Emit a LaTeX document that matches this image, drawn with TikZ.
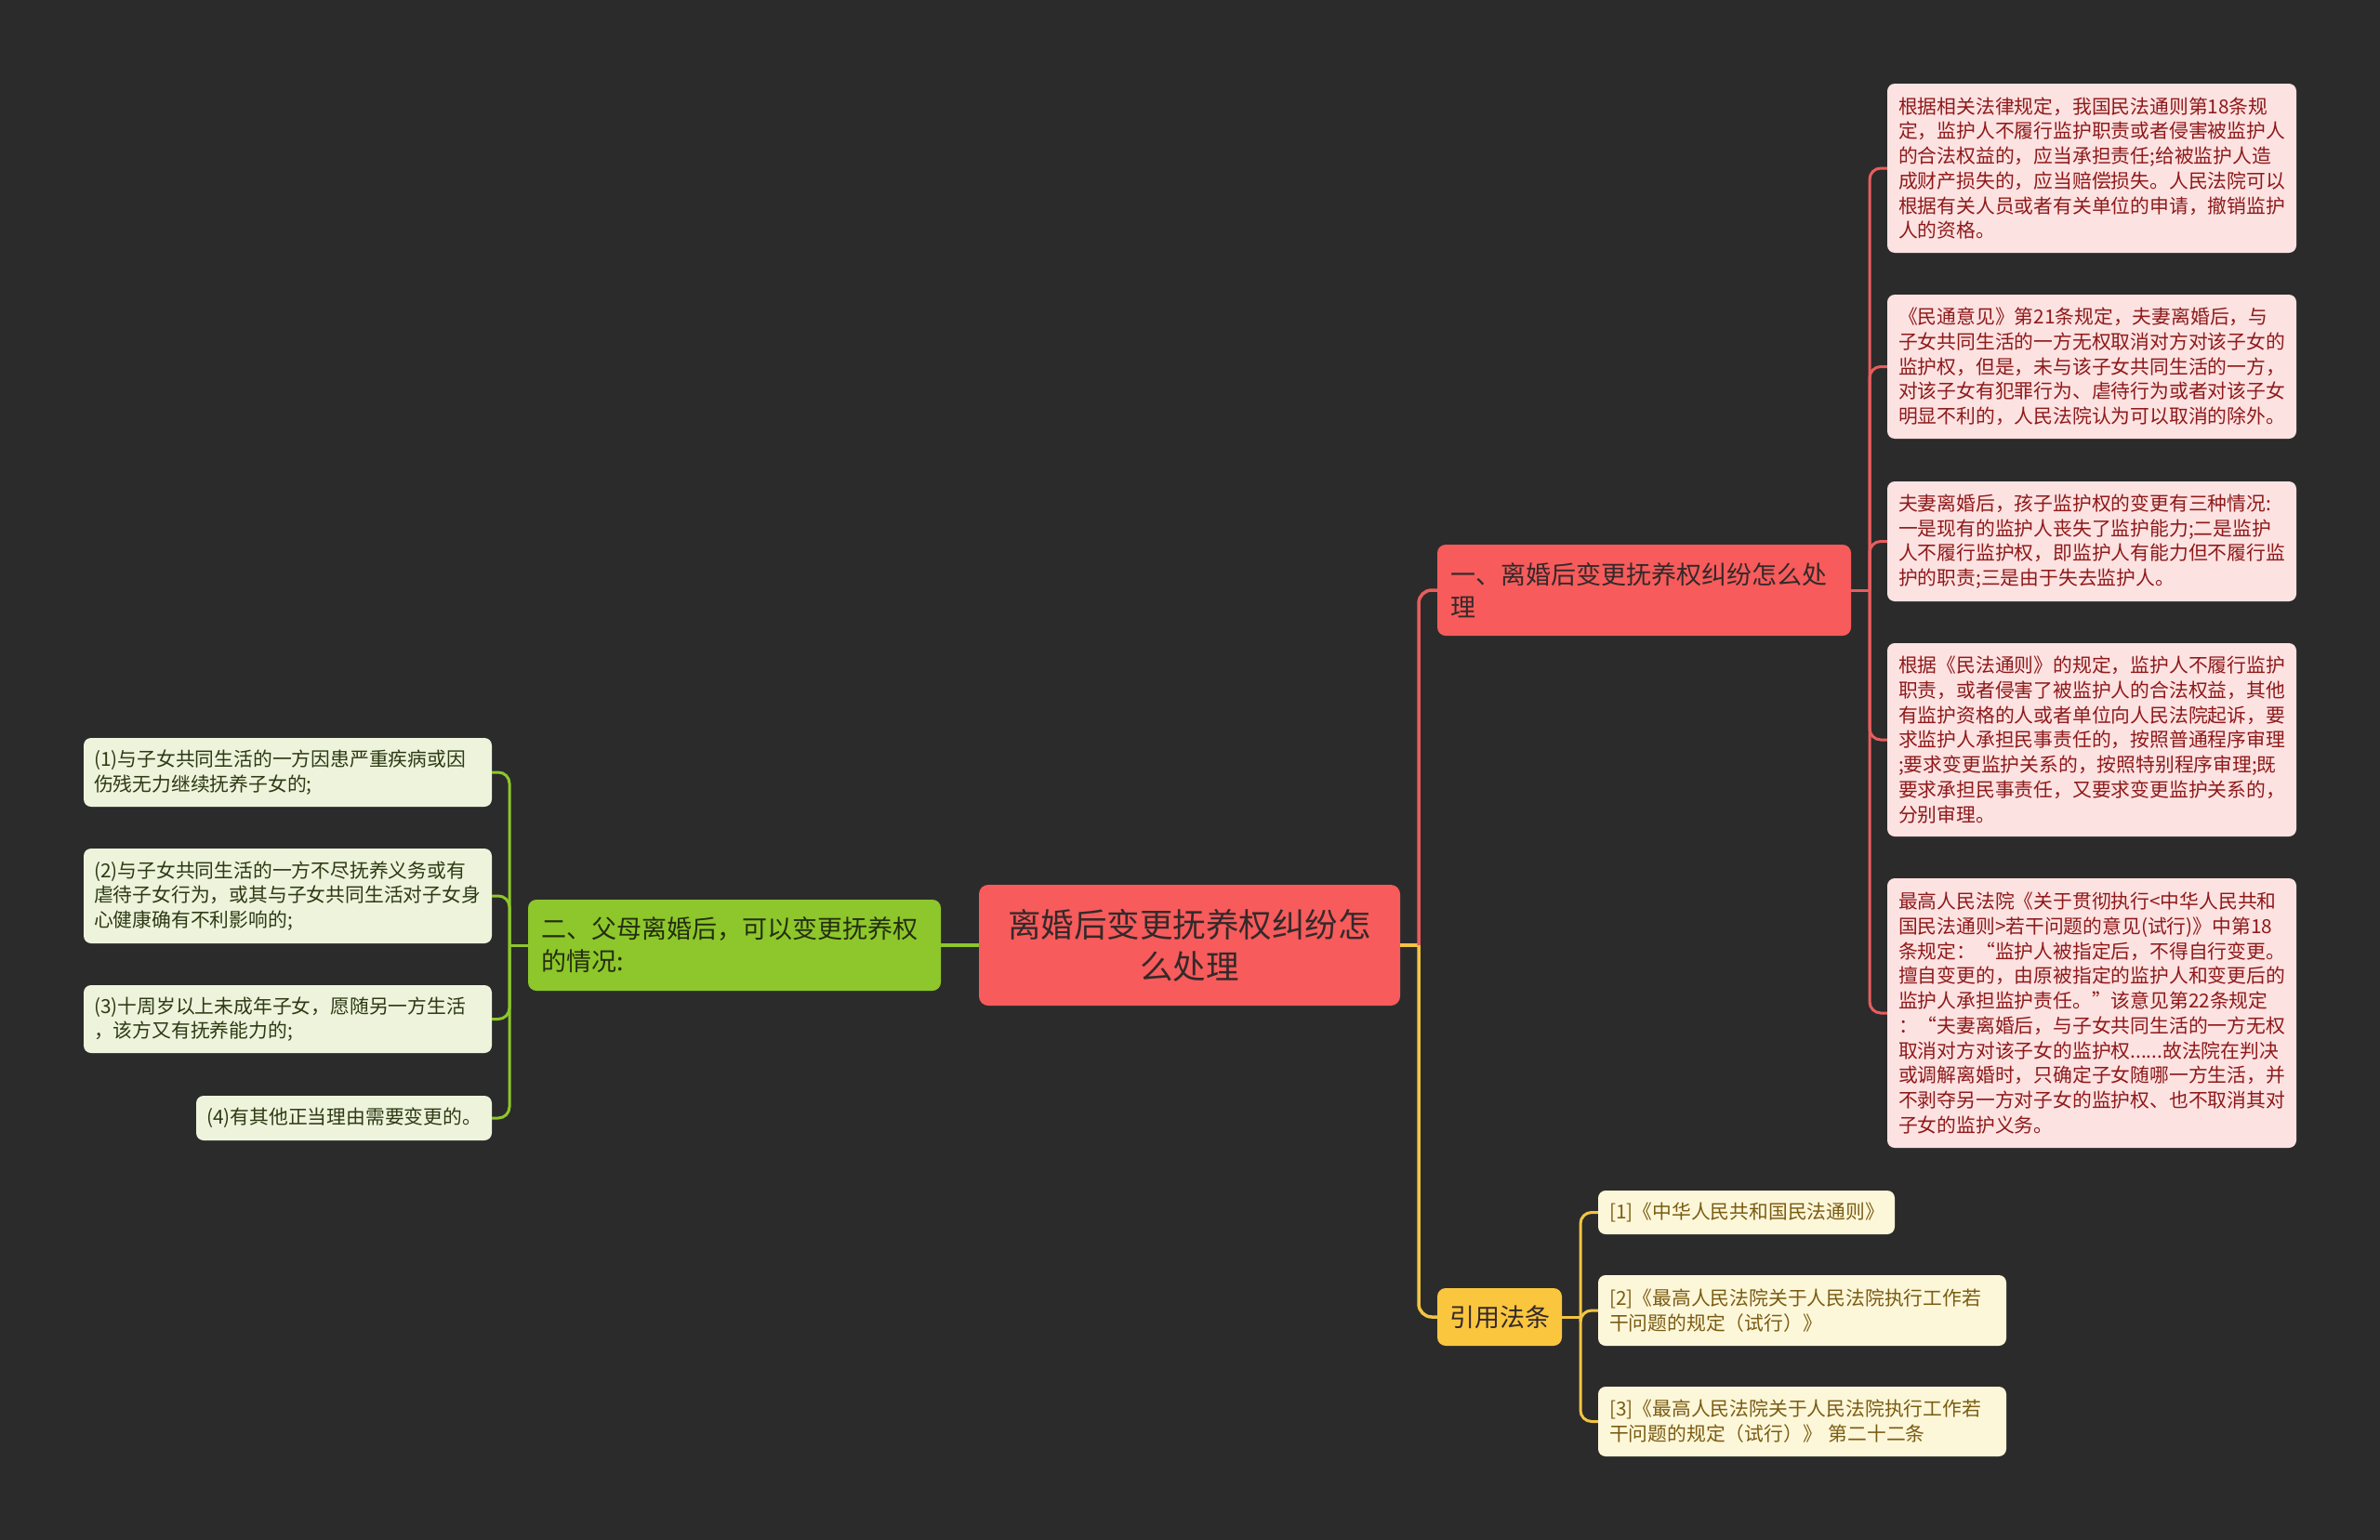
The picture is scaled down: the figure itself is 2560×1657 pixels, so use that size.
\documentclass[tikz,border=0pt]{standalone}
\usepackage{fontspec}
\newfontfamily\cjk{Noto Sans CJK SC}
\definecolor{bg}{HTML}{2B2B2B}
\definecolor{rootred}{HTML}{F75B5B}
\definecolor{linered}{HTML}{E85D5D}
\definecolor{pinkfill}{HTML}{FDE2E2}
\definecolor{pinktext}{HTML}{8E1A1A}
\definecolor{greenfill}{HTML}{8DC72B}
\definecolor{greenleaf}{HTML}{EEF4DC}
\definecolor{greentext}{HTML}{2D3A14}
\definecolor{yellowfill}{HTML}{FAC63E}
\definecolor{yellowline}{HTML}{F2C443}
\definecolor{yellowleaf}{HTML}{FDF7DA}
\definecolor{yellowtext}{HTML}{7A5C12}
\definecolor{darktext}{HTML}{33292A}
\tikzset{
  basebox/.style={rectangle, rounded corners=8pt, inner ysep=0pt, align=left},
  rootbox/.style={basebox, fill=rootred, text=darktext, align=center, rounded corners=10pt,
    font=\cjk\fontsize{35.5}{45}\selectfont},
  redbox/.style={basebox, fill=rootred, text=darktext, rounded corners=9pt,
    font=\cjk\fontsize{27}{35}\selectfont},
  greenbox/.style={basebox, fill=greenfill, text=greentext!80!black, rounded corners=9pt,
    font=\cjk\fontsize{27}{35}\selectfont},
  yellowbox/.style={basebox, fill=yellowfill, text=darktext, rounded corners=9pt,
    font=\cjk\fontsize{27}{35}\selectfont},
  pinkleaf/.style={basebox, fill=pinkfill, text=pinktext,
    font=\cjk\fontsize{20.8}{26.7}\selectfont},
  greenleafbox/.style={basebox, fill=greenleaf, text=greentext,
    font=\cjk\fontsize{20.8}{26.7}\selectfont},
  yellowleafbox/.style={basebox, fill=yellowleaf, text=yellowtext,
    font=\cjk\fontsize{20.8}{26.7}\selectfont},
  mainline/.style={line width=3.5pt},
  leafline/.style={line width=3pt, rounded corners=12pt},
}
% name, style, x1, y1, x2, y2, padding, text
\newcommand\bx[8]{%
  \pgfmathsetmacro\bxw{#5-#3}%
  \pgfmathsetmacro\bxh{#6-#4}%
  \pgfmathsetmacro\bxtw{#5-#3-2*#7}%
  \pgfmathsetmacro\bxcx{(#3+#5)/2}%
  \pgfmathsetmacro\bxcy{(#4+#6)/2}%
  \node[#2, inner xsep=#7pt, minimum width=\bxw pt, minimum height=\bxh pt, text width=\bxtw pt] (#1) at (\bxcx,\bxcy) {#8};%
}
\begin{document}
\begin{tikzpicture}[x=1pt,y=-1pt]
\fill[bg] (0,0) rectangle (2560,1657);
\useasboundingbox (0,0) rectangle (2560,1657);

% spine coordinates
\coordinate (sMain) at (1526,0);
\coordinate (sRed) at (2011,0);
\coordinate (sGreen) at (548,0);
\coordinate (sYellow) at (1700,0);

% ---- nodes
\bx{root}{rootbox}{1053}{952}{1506}{1082}{12}{离婚后变更抚养权纠纷怎\\么处理}
\bx{one}{redbox}{1546}{586}{1991}{684}{14}{一、离婚后变更抚养权纠纷怎么处\\理}
\bx{two}{greenbox}{568}{968}{1012}{1066}{14}{二、父母离婚后，可以变更抚养权\\的情况:}
\bx{cite}{yellowbox}{1546}{1386}{1680}{1448}{13}{引用法条}

\bx{p1}{pinkleaf}{2030}{90}{2470}{272}{12}{根据相关法律规定，我国民法通则第18条规\\定，监护人不履行监护职责或者侵害被监护人\\的合法权益的，应当承担责任;给被监护人造\\成财产损失的，应当赔偿损失。人民法院可以\\根据有关人员或者有关单位的申请，撤销监护\\人的资格。}
\bx{p2}{pinkleaf}{2030}{317}{2470}{472}{12}{《民通意见》第21条规定，夫妻离婚后，与\\子女共同生活的一方无权取消对方对该子女的\\监护权，但是，未与该子女共同生活的一方，\\对该子女有犯罪行为、虐待行为或者对该子女\\明显不利的，人民法院认为可以取消的除外。}
\bx{p3}{pinkleaf}{2030}{518}{2470}{647}{12}{夫妻离婚后，孩子监护权的变更有三种情况:\\一是现有的监护人丧失了监护能力;二是监护\\人不履行监护权，即监护人有能力但不履行监\\护的职责;三是由于失去监护人。}
\bx{p4}{pinkleaf}{2030}{692}{2470}{900}{12}{根据《民法通则》的规定，监护人不履行监护\\职责，或者侵害了被监护人的合法权益，其他\\有监护资格的人或者单位向人民法院起诉，要\\求监护人承担民事责任的，按照普通程序审理\\;要求变更监护关系的，按照特别程序审理;既\\要求承担民事责任，又要求变更监护关系的，\\分别审理。}
\bx{p5}{pinkleaf}{2030}{945}{2470}{1235}{12}{最高人民法院《关于贯彻执行<中华人民共和\\国民法通则>若干问题的意见(试行)》中第18\\条规定：“监护人被指定后，不得自行变更。\\擅自变更的，由原被指定的监护人和变更后的\\监护人承担监护责任。”该意见第22条规定\\：“夫妻离婚后，与子女共同生活的一方无权\\取消对方对该子女的监护权......故法院在判决\\或调解离婚时，只确定子女随哪一方生活，并\\不剥夺另一方对子女的监护权、也不取消其对\\子女的监护义务。}

\bx{g1}{greenleafbox}{90}{794}{529}{868}{11}{(1)与子女共同生活的一方因患严重疾病或因\\伤残无力继续抚养子女的;}
\bx{g2}{greenleafbox}{90}{913}{529}{1015}{11}{(2)与子女共同生活的一方不尽抚养义务或有\\虐待子女行为，或其与子女共同生活对子女身\\心健康确有不利影响的;}
\bx{g3}{greenleafbox}{90}{1060}{529}{1133}{11}{(3)十周岁以上未成年子女，愿随另一方生活\\，该方又有抚养能力的;}
\bx{g4}{greenleafbox}{211}{1179}{529}{1227}{11}{(4)有其他正当理由需要变更的。}

\bx{r1}{yellowleafbox}{1719}{1281}{2038}{1328}{12}{[1]《中华人民共和国民法通则》}
\bx{r2}{yellowleafbox}{1719}{1372}{2158}{1448}{12}{[2]《最高人民法院关于人民法院执行工作若\\干问题的规定（试行）》}
\bx{r3}{yellowleafbox}{1719}{1492}{2158}{1567}{12}{[3]《最高人民法院关于人民法院执行工作若\\干问题的规定（试行）》 第二十二条}

% ---- connectors: root
\begin{scope}[on background layer/.style={}]
\draw[mainline, yellowline] (root.east) -- (root.east -| sMain);
\draw[mainline, yellowline, rounded corners=14pt] (root.east -| sMain) |- (cite.west);
\draw[mainline, linered, rounded corners=14pt] (root.east -| sMain) |- (one.west);
\draw[mainline, greenfill] (root.west) -- (two.east);
\end{scope}

% red branch
\draw[leafline, linered, rounded corners=0pt] (one.east) -- (one.east -| sRed);
\foreach \n in {p1,p2,p3,p4,p5}{
  \draw[leafline, linered] (one.east -| sRed) |- (\n.west);
}
% green branch
\draw[leafline, greenfill, rounded corners=0pt] (two.west) -- (two.west -| sGreen);
\foreach \n in {g1,g2,g3,g4}{
  \draw[leafline, greenfill] (two.west -| sGreen) |- (\n.east);
}
% yellow branch
\draw[leafline, yellowline, rounded corners=0pt] (cite.east) -- (cite.east -| sYellow);
\foreach \n in {r1,r2,r3}{
  \draw[leafline, yellowline] (cite.east -| sYellow) |- (\n.west);
}
\end{tikzpicture}
\end{document}
